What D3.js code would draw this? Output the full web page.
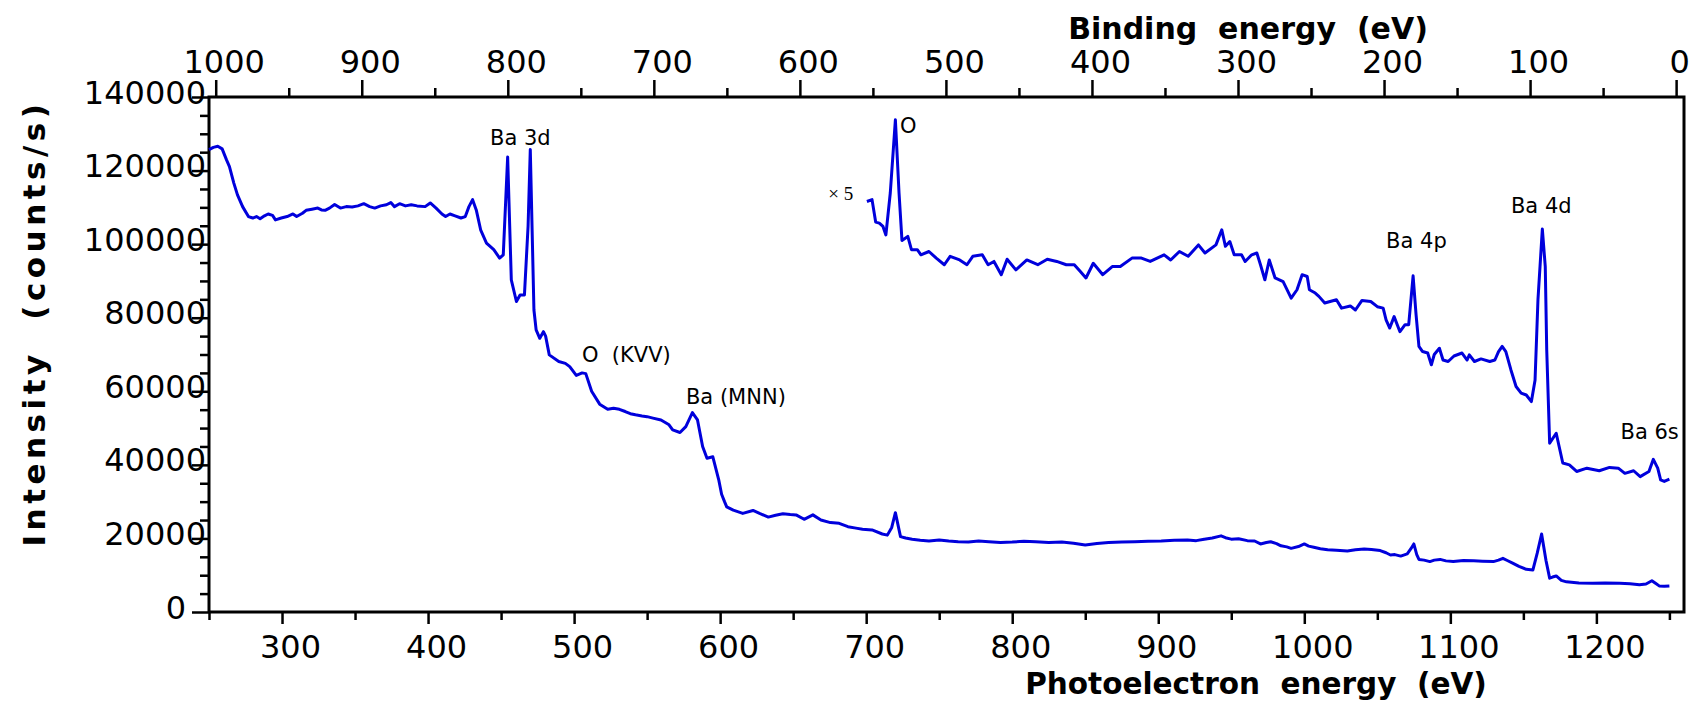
<!DOCTYPE html>
<html>
<head>
<meta charset="utf-8">
<script src="https://cdn.jsdelivr.net/npm/d3@7"></script>
<style>
  html, body { margin: 0; padding: 0; background: #ffffff; }
  svg { display: block; }
</style>
</head>
<body>
<div id="chart"></div>
<script>
// survey spectrum, photoelectron (kinetic) energy in eV and counts/s
var surveyEnergy = [250, 253, 256, 259, 262, 264, 267, 269.5, 273, 277, 280, 282.5, 285, 288, 290.5, 293.5, 295.5, 299.5, 303.5, 307.5,
  310, 314, 316.5, 320.5, 324.5, 327, 329.5, 332.5, 336, 340, 344, 348, 352, 356, 360, 363.5, 367.5, 371.5, 374.5, 377,
  380.5, 384.5, 388.5, 392.5, 398, 401.5, 405.5, 409.5, 412, 415, 418.5, 422.5, 425.5, 428, 430.5, 433, 436, 440, 445, 449,
  451.5, 454.5, 457, 460.5, 463, 466, 468.5, 470, 472.5, 474, 476.5, 479, 480.5, 483, 489.5, 494, 497, 501.5, 505.5, 508,
  512, 517.5, 523, 527, 531, 535, 538.5, 542, 546.5, 550, 554, 559.5, 565, 567.5, 572.5, 576.5, 581, 584.5, 588, 591,
  595, 599, 601, 603, 604.5, 609, 615.5, 622.5, 627, 633, 638, 643, 648, 652, 657.5, 663.5, 669, 675.5, 681.5, 687.5,
  693, 697.5, 704, 711, 714.5, 717.5, 720, 723.5, 727, 731.5, 737, 743, 750, 756.5, 763, 770, 777, 784, 792, 800,
  808, 816, 825, 834, 842, 850, 858, 866, 875, 884, 893, 902, 911, 920, 926, 931.5, 937, 943, 946, 950,
  955, 961, 966, 970, 974, 977, 981, 984, 988, 991, 996, 1000, 1003, 1006.5, 1011, 1016, 1022, 1029.5, 1035, 1041,
  1046, 1052, 1056, 1059, 1062, 1066, 1070.5, 1073, 1075, 1077, 1078.5, 1082, 1086, 1089, 1093, 1097, 1102, 1109, 1116, 1122,
  1129.5, 1133, 1136, 1139, 1143, 1147, 1152, 1156.5, 1159.5, 1162.5, 1165.5, 1168, 1170, 1172.5, 1176, 1179.5, 1188, 1197.5, 1206, 1216,
  1223, 1229.5, 1234, 1238, 1240.5, 1243, 1246.5, 1250];
var surveyCounts = [125700, 126300, 126600, 125900, 122900, 121100, 116600, 113400, 110200, 107500, 107100, 107500, 106900, 107700, 108200, 107800, 106600, 107100, 107500, 108200,
  107500, 108400, 109200, 109500, 109800, 109300, 109200, 109800, 110800, 109800, 110200, 110100, 110400, 111000, 110200, 109800, 110400, 110700, 111300, 110200,
  111000, 110400, 110700, 110400, 110200, 111200, 109800, 108200, 107500, 108200, 107700, 107100, 107500, 110200, 112100, 109300, 103900, 100300, 98500, 96200,
  97100, 123700, 90300, 84400, 86200, 86200, 105000, 125700, 82100, 76700, 74400, 76200, 75000, 69900, 68100, 67600, 66700, 64300, 65000, 64800,
  60000, 56500, 55100, 55400, 55100, 54500, 53900, 53600, 53300, 53100, 52700, 52200, 50900, 49500, 48800, 50400, 54200, 52200, 45000, 41800,
  42200, 36000, 32000, 30000, 28600, 27700, 26800, 27600, 26800, 25800, 26300, 26700, 26500, 26400, 25200, 26400, 25000, 24300, 24100, 23200,
  22800, 22500, 22300, 21200, 20900, 23000, 27000, 20500, 20100, 19800, 19500, 19300, 19600, 19300, 19100, 19000, 19300, 19100, 18900, 19000,
  19200, 19100, 18900, 19000, 18700, 18200, 18600, 18900, 19000, 19100, 19200, 19300, 19500, 19600, 19400, 19800, 20100, 20700, 20200, 19800,
  19900, 19400, 19300, 18500, 18900, 19100, 18600, 18000, 17700, 17300, 17800, 18500, 17900, 17600, 17200, 16900, 16800, 16600, 16900, 17100,
  17000, 16700, 16100, 15500, 15600, 15200, 15800, 17200, 18500, 15600, 14300, 14100, 13700, 14100, 14300, 13900, 13700, 14000, 13900, 13800,
  13700, 14100, 14600, 14000, 13200, 12400, 11600, 11400, 16000, 21200, 14000, 9200, 9500, 9800, 8600, 8200, 7900, 7800, 7900, 7800,
  7700, 7400, 7600, 8500, 7800, 7100, 7000, 7100];

// x5 magnified part of the same spectrum
var magEnergy = [700.5, 704, 706.5, 709, 711.5, 713.5, 716.5, 720, 722.5, 724.5, 728.5, 731, 735, 737.5, 743, 748, 753.5, 757.5, 764, 769,
  773, 779.5, 783.5, 787.5, 792.5, 796.5, 802.5, 810, 817.5, 824, 830.5, 837, 842.5, 846.5, 850.5, 855.5, 862, 868.5, 874, 882,
  888.5, 894.5, 904, 908.5, 914.5, 920.5, 927.5, 932, 939.5, 943.5, 946, 949, 952, 957, 959.5, 964, 967.5, 970, 973, 976,
  980, 985.5, 991, 995, 998.5, 1002, 1003.5, 1007.5, 1010, 1014, 1022, 1025.5, 1031.5, 1035, 1039.5, 1045.5, 1050, 1054, 1056, 1058.5,
  1061.5, 1065.5, 1069, 1071.5, 1074.5, 1076.5, 1078.5, 1081, 1084.5, 1087, 1089, 1092.5, 1095, 1098.5, 1102.5, 1108, 1111.5, 1113, 1116.5, 1121,
  1127, 1130.5, 1133, 1135.5, 1138, 1141.5, 1145, 1148.5, 1152, 1155.5, 1158, 1160, 1163, 1165, 1166, 1168, 1172.5, 1174.5,
  1177, 1181.5, 1186.5, 1193.5, 1202, 1209, 1215, 1219.5, 1225.5, 1230, 1236, 1239, 1242, 1244, 1246.5, 1250];
var magCounts = [111600, 112100, 106000, 105700, 104800, 102500, 113900, 133800, 113900, 101000, 102100, 98500, 98500, 97100, 98000, 96200, 94400, 96700, 95700, 94400,
  96700, 97100, 94400, 95300, 91700, 95900, 93000, 95700, 94400, 95900, 95300, 94400, 94400, 92600, 90800, 94800, 91700, 93900, 93900, 96200,
  96200, 95300, 97100, 95700, 98000, 96700, 99800, 97600, 99800, 103900, 99400, 100700, 97100, 97100, 95300, 97100, 97600, 94400, 90300, 95700,
  90800, 89800, 85300, 87600, 91700, 91200, 87600, 86700, 85800, 84000, 84900, 82600, 83200, 82100, 84700, 84400, 83000, 82600, 79400, 77200,
  80300, 76200, 78100, 78100, 91400, 81000, 72200, 70800, 70400, 67200, 70000, 71700, 68500, 68100, 69600, 70400, 68500, 69900, 68100, 68800,
  68100, 68500, 70800, 72200, 70800, 65800, 61300, 59500, 59000, 57200, 63000, 84900, 104100, 93900, 71300, 45900, 48600, 45000,
  40500, 40000, 38200, 39100, 38400, 39300, 39100, 37700, 38400, 36800, 38200, 41500, 39100, 35900, 35500, 36100];

// tick values
var energyTicks = [300, 400, 500, 600, 700, 800, 900, 1000, 1100, 1200];
var bindingTicks = [1000, 900, 800, 700, 600, 500, 400, 300, 200, 100, 0];
var countTicks = [0, 20000, 40000, 60000, 80000, 100000, 120000, 140000];

// binding energy = excitation offset - photoelectron energy
var excitationOffset = 1254.6;

// peak labels, anchored in data coordinates
var peakNames = ["Ba 3d", "O", "O  (KVV)", "Ba (MNN)", "Ba 4p", "Ba 4d", "Ba 6s"];
var peakEnergy = [442.4, 723.2, 505.4, 576.6, 1056, 1141.5, 1216.5];
var peakCounts = [126950, 130200, 67960, 56540, 98950, 108470, 47030];

var W = 1691, H = 706;
var plotLeft = 209, plotRight = 1684, plotTop = 97, plotBottom = 612;
var tickFont = "'DejaVu Sans', sans-serif";
var lineColor = "#0000dc";

var svg = d3.select("#chart").append("svg")
    .attr("width", W)
    .attr("height", H);
svg.append("rect").attr("width", W).attr("height", H).attr("fill", "#ffffff");

var x = d3.scaleLinear().domain([250, 1260]).range([plotLeft, plotRight]);
var xb = d3.scaleLinear()
    .domain([excitationOffset - 250, excitationOffset - 1260])
    .range([plotLeft, plotRight]);
var y = d3.scaleLinear().domain([0, 140000]).range([plotBottom, plotTop]);

function minorOf(lo, hi, step, majors) {
    var out = [];
    for (var v = lo; v <= hi + 1e-9; v += step) {
        if (majors.indexOf(v) < 0) out.push(v);
    }
    return out;
}

function styleAxis(g) {
    g.selectAll("path.domain").remove();
    g.selectAll(".tick line").attr("stroke", "#000").attr("stroke-width", 2.5);
    g.attr("font-family", tickFont).attr("font-size", 32);
    g.selectAll(".tick text").attr("fill", "#000");
}

// bottom axis
var gBottom = svg.append("g").attr("transform", "translate(0," + plotBottom + ")");
gBottom.call(d3.axisBottom(x).tickValues(energyTicks).tickSize(12).tickSizeOuter(0).tickFormat(d3.format("d")));
styleAxis(gBottom);
gBottom.selectAll(".tick text").attr("y", 46).attr("dy", null).attr("x", 8);
var gBottomMinor = svg.append("g").attr("transform", "translate(0," + plotBottom + ")");
gBottomMinor.call(d3.axisBottom(x).tickValues(minorOf(250, 1250, 50, energyTicks)).tickSize(8).tickFormat(""));
styleAxis(gBottomMinor);

// top axis (binding energy)
var gTop = svg.append("g").attr("transform", "translate(0," + plotTop + ")");
gTop.call(d3.axisTop(xb).tickValues(bindingTicks).tickSize(17).tickSizeOuter(0).tickFormat(d3.format("d")));
styleAxis(gTop);
gTop.selectAll(".tick text")
    .attr("y", -24).attr("dy", null)
    .attr("x", function (d) { return d === 0 ? 3 : 8; });
var gTopMinor = svg.append("g").attr("transform", "translate(0," + plotTop + ")");
gTopMinor.call(d3.axisTop(xb).tickValues(minorOf(50, 950, 100, [])).tickSize(9).tickFormat(""));
styleAxis(gTopMinor);

// left axis
var gLeft = svg.append("g").attr("transform", "translate(" + plotLeft + ",0)");
gLeft.call(d3.axisLeft(y).tickValues(countTicks).tickSize(17).tickSizeOuter(0).tickFormat(d3.format("d")));
styleAxis(gLeft);
gLeft.selectAll(".tick text")
    .attr("x", function (d) { return d === 0 ? -23 : -3; })
    .attr("y", 6).attr("dy", null);
var gLeftMinor = svg.append("g").attr("transform", "translate(" + plotLeft + ",0)");
gLeftMinor.call(d3.axisLeft(y).tickValues(minorOf(0, 140000, 5000, countTicks)).tickSize(9).tickFormat(""));
styleAxis(gLeftMinor);

// frame
svg.append("path")
    .attr("d", "M" + plotLeft + "," + plotBottom + "V" + plotTop + "H" + plotRight + "V" + plotBottom + "H" + plotLeft)
    .attr("fill", "none")
    .attr("stroke", "#000")
    .attr("stroke-width", 3);

// spectra
var line = d3.line()
    .x(function (d) { return x(d[0]); })
    .y(function (d) { return y(d[1]); });
var survey = surveyEnergy.map(function (e, i) { return [e, surveyCounts[i]]; });
var magnified = magEnergy.map(function (e, i) { return [e, magCounts[i]]; });
[survey, magnified].forEach(function (series) {
    svg.append("path")
        .datum(series)
        .attr("d", line)
        .attr("fill", "none")
        .attr("stroke", lineColor)
        .attr("stroke-width", 3)
        .attr("stroke-linejoin", "round");
});

// peak labels
peakNames.forEach(function (name, i) {
    svg.append("text")
        .attr("x", x(peakEnergy[i]))
        .attr("y", y(peakCounts[i]))
        .attr("font-family", tickFont)
        .attr("font-size", 21)
        .attr("fill", "#000")
        .style("white-space", "pre")
        .text(name);
});
svg.append("text")
    .attr("x", x(674.1))
    .attr("y", y(112000))
    .attr("font-family", "'Liberation Serif', serif")
    .attr("font-size", 19)
    .attr("fill", "#000")
    .text("\u00d7 5");

// axis titles
var titleFont = "'DejaVu Sans', sans-serif";
svg.append("text")
    .attr("x", 1248).attr("y", 39)
    .attr("text-anchor", "middle")
    .attr("font-family", titleFont).attr("font-weight", "bold").attr("font-size", 30)
    .style("white-space", "pre")
    .text("Binding  energy  (eV)");
svg.append("text")
    .attr("x", 1256).attr("y", 694)
    .attr("text-anchor", "middle")
    .attr("font-family", titleFont).attr("font-weight", "bold").attr("font-size", 29.5)
    .style("white-space", "pre")
    .text("Photoelectron  energy  (eV)");
svg.append("text")
    .attr("transform", "translate(45,323) rotate(-90)")
    .attr("text-anchor", "middle")
    .attr("font-family", titleFont).attr("font-weight", "bold").attr("font-size", 31)
    .attr("letter-spacing", 4.5)
    .style("white-space", "pre")
    .text("Intensity  (counts/s)");
</script>
</body>
</html>
